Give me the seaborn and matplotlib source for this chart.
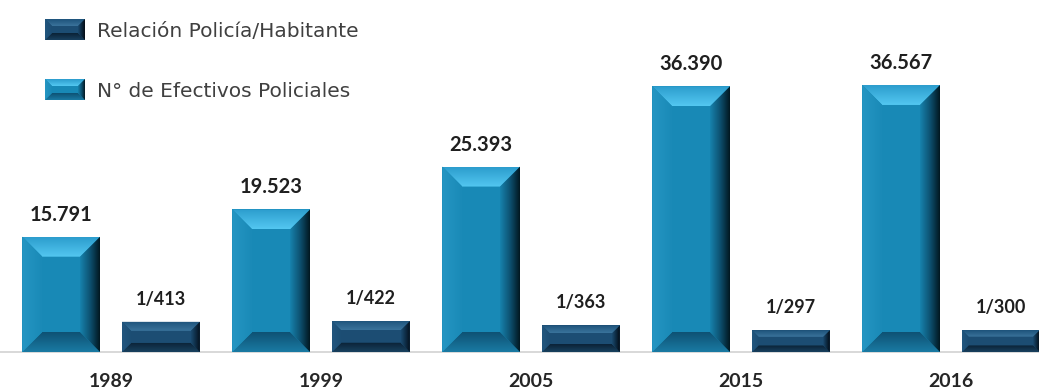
import numpy as np
import pandas as pd
import matplotlib
matplotlib.use("Agg")
import matplotlib.pyplot as plt
import seaborn as sns
from matplotlib.patches import Polygon
from matplotlib.colors import to_rgb

# ---- data -------------------------------------------------------------
years = ["1989", "1999", "2005", "2015", "2016"]
efectivos = [15791, 19523, 25393, 36390, 36567]          # N° de efectivos policiales
habitantes_por_policia = [413, 422, 363, 297, 300]       # relación 1 policía / N habitantes

serie_efectivos = "N° de Efectivos Policiales"
serie_relacion = "Relación Policía/Habitante"
series_order = [serie_efectivos, serie_relacion]

# ---- figure ------------------------------------------------------------
W, H = 1039, 389
sns.set_theme(style="white")
plt.rcParams["font.family"] = ["Lato", "DejaVu Sans"]

fig = plt.figure(figsize=(W / 100, H / 100), dpi=100)
base_px = 37
ax = fig.add_axes([0, base_px / H, 1, (H - base_px) / H])
ax2 = ax.twinx()   # secondary scale for the police/inhabitant ratio

TEAL = "#1889B6"
NAVY = "#1C4D73"

df = pd.concat([
    pd.DataFrame({"anio": years, "serie": serie_efectivos, "valor": efectivos}),
    pd.DataFrame({"anio": years, "serie": serie_relacion, "valor": habitantes_por_policia}),
], ignore_index=True)

common = dict(data=df, x="anio", y="valor", hue="serie", hue_order=series_order, order=years,
              width=0.95, gap=0.22, errorbar=None, legend=False, saturation=1,
              palette=[TEAL, NAVY], linewidth=0)
sns.barplot(ax=ax, **common)
sns.barplot(ax=ax2, **common)


def keep_only(a, color):
    """Keep the bars of one series on this axis, drop the others."""
    target = np.array(to_rgb(color))
    kept = []
    for p in list(a.patches):
        if np.allclose(np.array(p.get_facecolor()[:3]), target, atol=0.02):
            kept.append(p)
        else:
            p.remove()
    kept.sort(key=lambda p: p.get_x())
    return kept


bars_ef = keep_only(ax, TEAL)
bars_rel = keep_only(ax2, NAVY)

ymax = 48200
ax.set_ylim(0, ymax)
ax2.set_ylim(0, ymax / 10)
ax.set_xlim(-0.529, 4.419)

for a in (ax, ax2):
    for s in ("top", "left", "right"):
        a.spines[s].set_visible(False)
    a.set_yticks([])
    a.set_ylabel("")
    a.set_xlabel("")
ax2.spines["bottom"].set_visible(False)
ax.spines["bottom"].set_color("#D6D6D6")
ax.spines["bottom"].set_linewidth(1.3)
ax.tick_params(axis="x", length=0, pad=15)
for lab in ax.get_xticklabels():
    lab.set_fontweight("bold")
    lab.set_fontsize(14)
    lab.set_color("#262626")

# ---- value labels ----------------------------------------------------
for p, v in zip(bars_ef, efectivos):
    ax.annotate(f"{v:,}".replace(",", "."), (p.get_x() + p.get_width() / 2, p.get_height()),
                xytext=(0, 16), textcoords="offset pixels", ha="center", va="baseline",
                fontsize=14.5, fontweight="bold", color="#1F1F1F")
for p, v in zip(bars_rel, habitantes_por_policia):
    ax2.annotate(f"1/{v}", (p.get_x() + p.get_width() / 2, p.get_height()),
                 xytext=(0, 17), textcoords="offset pixels", ha="center", va="baseline",
                 fontsize=13, fontweight="bold", color="#1F1F1F")

# ---- bevelled bar rendering ------------------------------------------
ov = fig.add_axes([0, 0, 1, 1], zorder=5)
ov.set_xlim(0, W)
ov.set_ylim(0, H)
ov.axis("off")
ov.patch.set_alpha(0)

STYLE = {
    "teal": dict(face=TEAL,
                 top=["#2C9DCD", "#53C7F1"],
                 left=["#2596C3", "#1A8AB7"],
                 right=["#021720", "#0D5272", "#1782AD"],
                 bottom=["#1A7AA3", "#0E5274"]),
    "navy": dict(face=NAVY,
                 top=["#1E537B", "#3A739B"],
                 left=["#22567E", "#1C4D73"],
                 right=["#040C14", "#0D2A42", "#1A4A6F"],
                 bottom=["#18415F", "#0B2236"]),
}


def gradient(poly_pts, bbox, colors, vertical, reverse=False):
    """Fill polygon with a linear gradient; colors listed from outer edge to inner edge."""
    cols = np.array([to_rgb(c) for c in colors])
    n = 64
    t = np.linspace(0, 1, n)
    pos = np.linspace(0, 1, len(cols))
    grad = np.stack([np.interp(t, pos, cols[:, k]) for k in range(3)], axis=-1)
    if reverse:
        grad = grad[::-1]
    img = grad[:, None, :] if vertical else grad[None, :, :]
    x0, x1, y0, y1 = bbox
    im = ov.imshow(img, extent=[x0, x1, y0, y1], origin="lower", aspect="auto",
                   interpolation="bilinear", zorder=2)
    clip = Polygon(poly_pts, closed=True, transform=ov.transData)
    im.set_clip_path(clip)


def bevel(x0, y0, x1, y1, style, b):
    st = STYLE[style]
    ov.add_patch(Polygon([(x0, y0), (x1, y0), (x1, y1), (x0, y1)], closed=True,
                         facecolor=st["face"], edgecolor="none", zorder=1))
    ix0, ix1, iy0, iy1 = x0 + b, x1 - b, y0 + b, y1 - b
    gradient([(x0, y1), (x1, y1), (ix1, iy1), (ix0, iy1)], (x0, x1, iy1, y1),
             st["top"], vertical=True, reverse=True)
    gradient([(x0, y0), (x1, y0), (ix1, iy0), (ix0, iy0)], (x0, x1, y0, iy0),
             st["bottom"], vertical=True)
    gradient([(x0, y0), (ix0, iy0), (ix0, iy1), (x0, y1)], (x0, ix0, y0, y1),
             st["left"], vertical=False)
    gradient([(x1, y0), (ix1, iy0), (ix1, iy1), (x1, y1)], (ix1, x1, y0, y1),
             st["right"], vertical=False, reverse=True)


for a, bars, style in ((ax, bars_ef, "teal"), (ax2, bars_rel, "navy")):
    for p in bars:
        (px0, py0), (px1, py1) = a.transData.transform(
            [(p.get_x(), 0), (p.get_x() + p.get_width(), p.get_height())])
        h = py1 - py0
        b = min(20.0, 0.3 * h)
        bevel(px0, py0, px1, py1, style, b)

# ---- legend ------------------------------------------------------------
legend_items = [(serie_relacion, "navy", 19, 40), (serie_efectivos, "teal", 79, 100)]
for label, style, top_px, bot_px in legend_items:
    bevel(45, H - bot_px, 85, H - top_px, style, 7)
    fig.text(97 / W, 1 - (bot_px - 3) / H, label, ha="left", va="baseline",
             fontsize=14.5, color="#404040", family=["DejaVu Sans"])

fig.savefig("out.png", dpi=100)
